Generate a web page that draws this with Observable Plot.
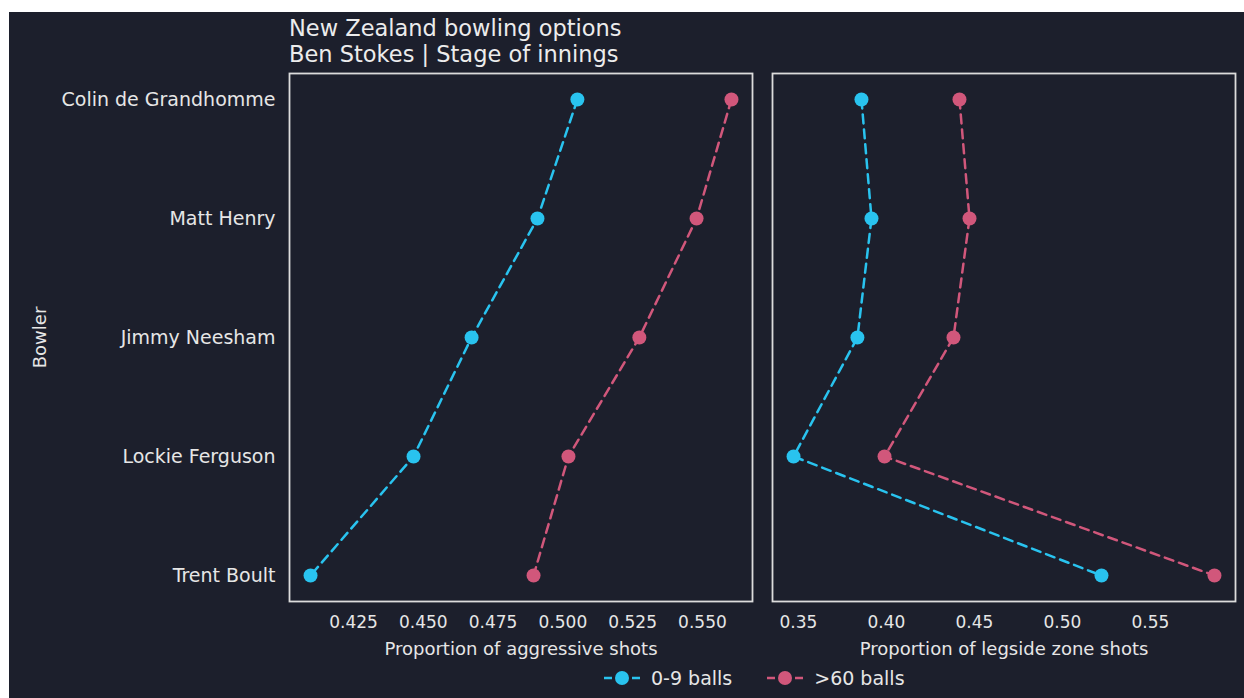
<!DOCTYPE html>
<html>
<head>
<meta charset="utf-8">
<script src="https://cdn.jsdelivr.net/npm/d3@7"></script>
<script src="https://cdn.jsdelivr.net/npm/@observablehq/plot@0.6"></script>
<style>
  html, body { margin: 0; padding: 0; background: #ffffff; }
  #wrap { position: absolute; left: 9px; top: 12px; width: 1235px; height: 686px; background: #1c1f2c; overflow: hidden;
          font-family: "DejaVu Sans", sans-serif; color: #e6e6e6; }
  #title { position: absolute; left: 280px; top: 3px; font-size: 22.5px; line-height: 26px; color: #ececec; }
  .panel { position: absolute; }
  .panel svg { max-width: none !important; }
  #legend { position: absolute; top: 655px; left: 593px; display: flex; align-items: center; font-size: 19px; color: #e6e6e6; white-space: nowrap; }
  .key { display: flex; align-items: center; margin-right: 33px; }
  .key svg { margin-right: 9px; }
</style>
</head>
<body>
<div id="wrap">
  <div id="title">New Zealand bowling options<br>Ben Stokes | Stage of innings</div>
  <div id="left" class="panel"></div>
  <div id="right" class="panel"></div>
  <div id="legend"></div>
</div>
<script>
const bowlers = ["Colin de Grandhomme", "Matt Henry", "Jimmy Neesham", "Lockie Ferguson", "Trent Boult"];
const stages = ["0-9 balls", ">60 balls"];
const stageColors = ["#29c3ef", "#d1577b"];
const aggressive_0_9 = [0.5052, 0.4909, 0.4673, 0.4465, 0.4096];
const aggressive_60 = [0.5604, 0.5479, 0.5274, 0.5020, 0.4895];
const legside_0_9 = [0.3858, 0.3915, 0.3835, 0.3472, 0.5222];
const legside_60 = [0.4415, 0.4472, 0.4381, 0.3989, 0.5864];
const aggTicks = [0.425, 0.450, 0.475, 0.500, 0.525, 0.550];
const legTicks = [0.35, 0.40, 0.45, 0.50, 0.55];

function rows(a, b) {
  const out = [];
  bowlers.forEach((bw, i) => out.push({bowler: bw, stage: stages[0], value: a[i]}));
  bowlers.forEach((bw, i) => out.push({bowler: bw, stage: stages[1], value: b[i]}));
  return out;
}
const aggData = rows(aggressive_0_9, aggressive_60);
const legData = rows(legside_0_9, legside_60);

function expand(vals) {
  const [lo, hi] = d3.extent(vals);
  const p = (hi - lo) * 0.05;
  return [lo - p, hi + p];
}

const textColor = "#e6e6e6";
const fontFamily = '"DejaVu Sans", sans-serif';

function panel(data, ticks, fmt, xlabel, showY, width, marginLeft, marginRight) {
  const svg = Plot.plot({
    width, height: 609,
    marginTop: 11, marginBottom: 70, marginLeft, marginRight,
    style: {background: "transparent", color: textColor, fontFamily, fontSize: "17px", maxWidth: "none"},
    x: {domain: expand(data.map(d => d.value)), ticks, tickFormat: fmt, tickSize: 0, tickPadding: 14,
        label: xlabel, labelAnchor: "center", labelArrow: "none", labelOffset: 53},
    y: {domain: bowlers, type: "point", padding: 0.2, axis: showY ? "left" : null, tickSize: 0, tickPadding: 14,
        label: "Bowler", labelAnchor: "center", labelArrow: "none", labelOffset: 256},
    color: {domain: stages, range: stageColors},
    marks: [
      Plot.frame({stroke: "#dcdcdc", strokeWidth: 1.8}),
      Plot.line(data, {x: "value", y: "bowler", z: "stage", stroke: "stage", strokeWidth: 2.5, strokeDasharray: "9,6"}),
      Plot.dot(data, {x: "value", y: "bowler", fill: "stage", r: 7})
    ]
  });
  svg.querySelectorAll("g[aria-label='y-axis tick label'] text").forEach(t => t.setAttribute("font-size", "19"));
  svg.querySelectorAll("g[aria-label='y-axis label'] text, g[aria-label='x-axis label'] text").forEach(t => t.setAttribute("font-size", "18"));
  return svg;
}

const left = panel(aggData, aggTicks, d3.format(".3f"), "Proportion of aggressive shots", true, 750, 280, 7);
const lp = document.getElementById("left");
lp.style.left = "0px"; lp.style.top = "50px"; lp.style.width = "750px";
lp.appendChild(left);

const right = panel(legData, legTicks, d3.format(".2f"), "Proportion of legside zone shots", false, 480, 3, 14);
const rp = document.getElementById("right");
rp.style.left = "760px"; rp.style.top = "50px"; rp.style.width = "480px";
rp.appendChild(right);

const legend = document.getElementById("legend");
stages.forEach((s, i) => {
  const k = document.createElement("div");
  k.className = "key";
  k.innerHTML = `<svg width="40" height="20"><line x1="2" y1="10" x2="38" y2="10" stroke="${stageColors[i]}" stroke-width="2.5" stroke-dasharray="8,6"/><circle cx="20" cy="10" r="7" fill="${stageColors[i]}"/></svg><span>${s}</span>`;
  legend.appendChild(k);
});
</script>
</body>
</html>
